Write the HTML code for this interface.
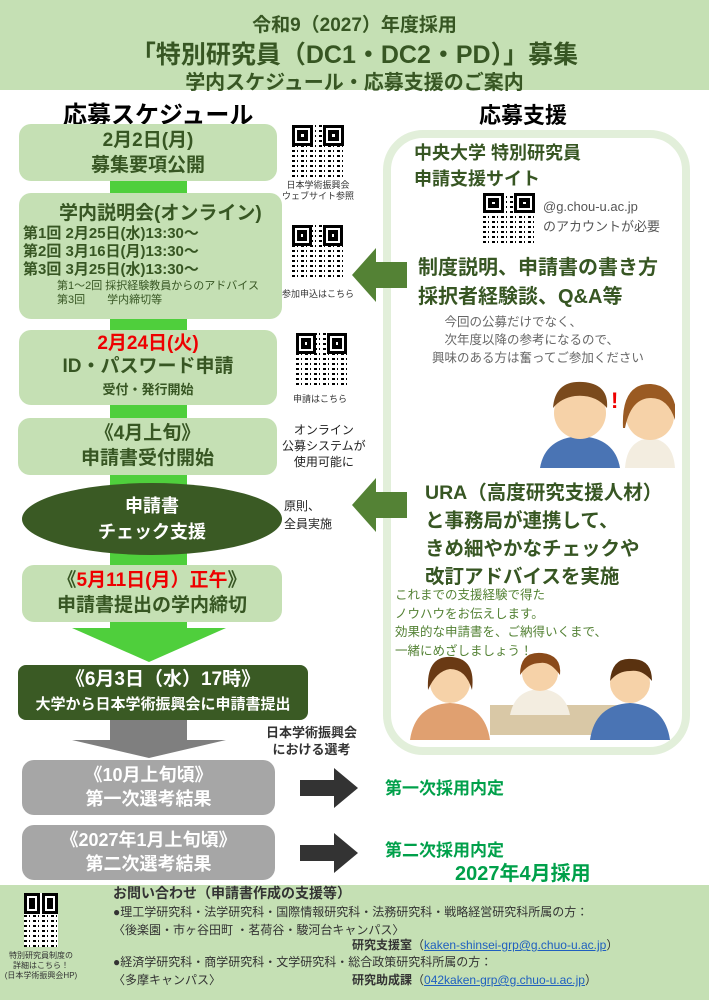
<!DOCTYPE html>
<html><head><meta charset="utf-8"><style>
*{margin:0;padding:0;box-sizing:border-box}
body{width:709px;height:1000px;position:relative;background:#fff;font-family:"Liberation Sans","Noto Sans CJK JP",sans-serif;overflow:hidden;color:#375623}
.a{position:absolute;white-space:nowrap}
.box{position:absolute;background:#c5e0b4;border-radius:12px;text-align:center;font-weight:bold;color:#375623}
.gbox{position:absolute;background:#a6a6a6;border-radius:12px;text-align:center;font-weight:bold;color:#fff}
.bar{position:absolute;background:#4fcf3c}
.b{font-weight:bold}
.qr{position:absolute;background:
 repeating-linear-gradient(90deg,#000 0 3px,#fff 3px 5px,#000 5px 6px,#fff 6px 9px),
 repeating-linear-gradient(0deg,#000 0 2px,#fff 2px 5px);background-blend-mode:lighten}
.qr::before,.qr::after{content:"";position:absolute;width:28%;height:28%;border:3px solid #000;background:#fff;box-shadow:inset 0 0 0 2px #fff,inset 0 0 0 6px #000}
.qr::before{left:0;top:0}.qr::after{right:0;top:0}
.sm{font-size:9px;color:#333;text-align:center}
</style></head><body>
<div class="a" style="left:0;top:0;width:709px;height:90px;background:#c5e0b4"></div>
<div class="a b" style="left:0;width:709px;text-align:center;top:10px;font-size:19px">令和9（2027）年度採用</div>
<div class="a b" style="left:0;width:709px;text-align:center;top:35px;font-size:25px">「特別研究員（DC1・DC2・PD）」募集</div>
<div class="a b" style="left:0;width:709px;text-align:center;top:66px;font-size:20px">学内スケジュール・応募支援のご案内</div>
<div class="a b" style="left:63px;top:95px;font-size:24px;color:#000">応募スケジュール</div>
<div class="a b" style="left:479px;top:98px;font-size:22px;color:#000">応募支援</div>

<div class="bar" style="left:110px;top:178px;width:77px;height:450px"></div>
<div class="a" style="left:72px;top:628px;width:0;height:0;border-left:77px solid transparent;border-right:77px solid transparent;border-top:34px solid #4fcf3c"></div>

<div class="box" style="left:19px;top:124px;width:258px;height:57px;font-size:19px;line-height:25px;padding-top:4px">2月2日(月)<br>募集要項公開</div>
<div class="box" style="left:19px;top:193px;width:263px;height:126px;text-align:left">
<div style="font-size:19px;padding:5px 0 0 40px">学内説明会(オンライン)</div>
<div style="font-size:15px;line-height:18px;padding-left:4px">第1回 2月25日(水)13:30～<br>第2回 3月16日(月)13:30～<br>第3回 3月25日(水)13:30～</div>
<div style="font-size:11px;line-height:14px;padding-left:38px;font-weight:normal">第1～2回 採択経験教員からのアドバイス<br>第3回　　学内締切等</div></div>
<div class="box" style="left:19px;top:330px;width:258px;height:75px;line-height:22px;padding-top:3px"><span style="color:#e00;font-size:19px">2月24日(火)</span><br><span style="font-size:19px">ID・パスワード申請</span><br><span style="font-size:13px">受付・発行開始</span></div>
<div class="box" style="left:18px;top:418px;width:259px;height:57px;font-size:19px;line-height:25px;padding-top:3px">《4月上旬》<br>申請書受付開始</div>
<div class="a" style="left:22px;top:483px;width:260px;height:72px;border-radius:50%;background:#3a5a24;color:#fff;text-align:center;font-weight:bold;font-size:18px;line-height:26px;padding-top:10px">申請書<br>チェック支援</div>
<div class="box" style="left:22px;top:565px;width:260px;height:57px;font-size:19px;line-height:25px;padding-top:3px"><span>《<span style="color:#e00">5月11日(月）正午</span>》</span><br>申請書提出の学内締切</div>
<div class="a" style="left:18px;top:665px;width:290px;height:55px;background:#3a5a24;border-radius:8px;color:#fff;text-align:center;font-weight:bold;line-height:24px;padding-top:3px"><span style="font-size:19px">《6月3日（水）17時》</span><br><span style="font-size:15px">大学から日本学術振興会に申請書提出</span></div>

<div class="a" style="left:110px;top:720px;width:77px;height:22px;background:#7f7f7f"></div>
<div class="a" style="left:72px;top:740px;width:0;height:0;border-left:77px solid transparent;border-right:77px solid transparent;border-top:18px solid #7f7f7f"></div>
<div class="gbox" style="left:22px;top:760px;width:253px;height:55px;font-size:18px;line-height:24px;padding-top:3px">《10月上旬頃》<br>第一次選考結果</div>
<div class="gbox" style="left:22px;top:825px;width:253px;height:55px;font-size:18px;line-height:24px;padding-top:3px">《2027年1月上旬頃》<br>第二次選考結果</div>
<svg class="a" style="left:300px;top:768px" width="58" height="40"><polygon points="0,12 34,12 34,0 58,20 34,40 34,28 0,28" fill="#333"/></svg>
<svg class="a" style="left:300px;top:833px" width="58" height="40"><polygon points="0,12 34,12 34,0 58,20 34,40 34,28 0,28" fill="#333"/></svg>
<div class="a b" style="left:385px;top:774px;font-size:17px;color:#00a04a">第一次採用内定</div>
<div class="a b" style="left:385px;top:836px;font-size:17px;color:#00a04a">第二次採用内定</div>
<div class="a b" style="left:455px;top:857px;font-size:20px;color:#00a04a">2027年4月採用</div>
<div class="a b" style="left:266px;top:724px;font-size:13px;color:#333;text-align:center;line-height:17px">日本学術振興会<br>における選考</div>

<div class="qr" style="left:292px;top:125px;width:52px;height:52px"></div>
<div class="a sm" style="left:280px;top:180px;width:76px;line-height:11px">日本学術振興会<br>ウェブサイト参照</div>
<div class="qr" style="left:292px;top:225px;width:51px;height:52px"></div>
<div class="a sm" style="left:276px;top:287px;width:84px">参加申込はこちら</div>
<div class="qr" style="left:296px;top:333px;width:51px;height:52px"></div>
<div class="a sm" style="left:290px;top:392px;width:60px">申請はこちら</div>
<div class="a" style="left:282px;top:422px;font-size:12px;color:#222;text-align:center;line-height:16px">オンライン<br>公募システムが<br>使用可能に</div>
<div class="a" style="left:284px;top:497px;font-size:12px;color:#222;line-height:18px">原則、<br>全員実施</div>

<div class="a" style="left:383px;top:130px;width:307px;height:625px;border:8px solid #e2efda;border-radius:40px;background:#fff"></div>
<svg class="a" style="left:352px;top:248px" width="55" height="54"><polygon points="0,27 24,0 24,14 55,14 55,40 24,40 24,54" fill="#548235"/></svg>
<svg class="a" style="left:352px;top:478px" width="55" height="54"><polygon points="0,27 24,0 24,14 55,14 55,40 24,40 24,54" fill="#548235"/></svg>
<div class="a b" style="left:414px;top:140px;font-size:18px;line-height:26px">中央大学 特別研究員<br>申請支援サイト</div>
<div class="qr" style="left:483px;top:193px;width:52px;height:50px"></div>
<div class="a" style="left:543px;top:197px;font-size:13px;color:#555;line-height:20px">@g.chou-u.ac.jp<br>のアカウントが必要</div>
<div class="a b" style="left:418px;top:254px;font-size:20px;line-height:29px">制度説明、申請書の書き方<br>採択者経験談、Q&amp;A等</div>
<div class="a" style="left:432px;top:313px;font-size:12.5px;color:#666;line-height:18px">　今回の公募だけでなく、<br>　次年度以降の参考になるので、<br>興味のある方は奮ってご参加ください</div>
<svg class="a" style="left:525px;top:368px" width="150" height="100">
<path d="M15,100 Q20,70 55,68 Q90,70 95,100Z" fill="#4a74b4"/><circle cx="55" cy="45" r="26" fill="#f6d2a8"/><path d="M28,40 Q30,12 58,14 Q84,16 82,40 Q70,26 50,28 Q36,30 28,40Z" fill="#7a4a1c"/>
<path d="M100,100 Q102,72 125,70 Q148,72 150,100Z" fill="#f3ede0"/><circle cx="125" cy="48" r="24" fill="#f6d2a8"/><path d="M98,60 Q96,15 126,16 Q154,18 152,60 Q146,30 126,30 Q106,30 100,60Z" fill="#9a5a22"/>
<text x="86" y="40" font-size="22" fill="#e00" font-weight="bold" font-family="Liberation Sans">!</text>
</svg>
<div class="a b" style="left:425px;top:479px;font-size:19.5px;line-height:28px">URA（高度研究支援人材）<br>と事務局が連携して、<br>きめ細やかなチェックや<br>改訂アドバイスを実施</div>
<div class="a" style="left:395px;top:586px;font-size:12.5px;color:#548235;line-height:18.5px">これまでの支援経験で得た<br>ノウハウをお伝えします。<br>効果的な申請書を、ご納得いくまで、<br>一緒にめざしましょう！</div>
<svg class="a" style="left:400px;top:645px" width="280" height="95">
<rect x="90" y="60" width="150" height="30" fill="#d9c8a6"/>
<path d="M10,95 Q15,60 50,58 Q85,60 90,95Z" fill="#e0a070"/><circle cx="50" cy="38" r="20" fill="#f6d2a8"/><path d="M28,45 Q26,10 52,12 Q76,14 72,45 Q66,24 50,24 Q36,26 28,45Z" fill="#6a3a14"/>
<path d="M110,70 Q115,45 140,44 Q165,45 170,70Z" fill="#f3ede0"/><circle cx="140" cy="28" r="18" fill="#f6d2a8"/><path d="M120,30 Q120,6 142,8 Q162,10 160,30 Q150,16 140,18 Q128,18 120,30Z" fill="#8a4a1a"/>
<path d="M190,95 Q195,60 230,58 Q265,60 270,95Z" fill="#4a74b4"/><circle cx="230" cy="38" r="20" fill="#f6d2a8"/><path d="M210,36 Q212,12 232,14 Q252,14 252,36 Q242,24 230,26 Q218,26 210,36Z" fill="#5a3210"/>
</svg>

<div class="a" style="left:0;top:885px;width:709px;height:115px;background:#c5e0b4"></div>
<div class="qr" style="left:24px;top:893px;width:34px;height:54px"></div>
<div class="a sm" style="left:0;top:951px;width:82px;font-size:8px;line-height:10px;color:#333">特別研究員制度の<br>詳細はこちら！<br>(日本学術振興会HP)</div>
<div class="a b" style="left:113px;top:883px;font-size:14px;color:#333">お問い合わせ（申請書作成の支援等）</div>
<div class="a" style="left:113px;top:903px;font-size:12px;color:#333;line-height:18px">●理工学研究科・法学研究科・国際情報研究科・法務研究科・戦略経営研究科所属の方：<br>〈後楽園・市ヶ谷田町 ・茗荷谷・駿河台キャンパス〉</div>
<div class="a" style="left:352px;top:936px;font-size:12px;color:#333"><b>研究支援室</b>（<span style="color:#1f5fbf;text-decoration:underline">kaken-shinsei-grp@g.chuo-u.ac.jp</span>）</div>
<div class="a" style="left:113px;top:953px;font-size:12px;color:#333;line-height:18px">●経済学研究科・商学研究科・文学研究科・総合政策研究科所属の方：<br>〈多摩キャンパス〉</div>
<div class="a" style="left:352px;top:971px;font-size:12px;color:#333"><b>研究助成課</b>（<span style="color:#1f5fbf;text-decoration:underline">042kaken-grp@g.chuo-u.ac.jp</span>）</div>
</body></html>
